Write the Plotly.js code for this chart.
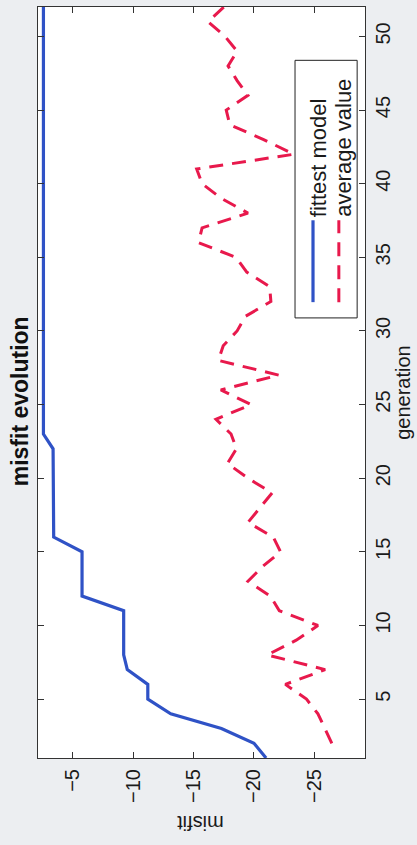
<!DOCTYPE html>
<html>
<head>
<meta charset="utf-8">
<script src="https://cdn.plot.ly/plotly-3.0.1.min.js"></script>
<style>
html,body{margin:0;padding:0;background:#eceef1;overflow:hidden;}
#chart{width:417px;height:845px;}
</style>
</head>
<body>
<div id="chart"></div>
<script>
// generation numbers (vertical axis in the rotated figure)
const fittestGenerations = [1,2,3,4,5,6,7,8,9,10,11,12,13,14,15,16,17,18,19,20,21,22,23,24,25,26,27,28,29,30,31,32,33,34,35,36,37,38,39,40,41,42,43,44,45,46,47,48,49,50,51,52];
const fittestModel = [-21.0,-20.0,-17.3,-13.1,-11.2,-11.2,-9.5,-9.2,-9.2,-9.2,-9.2,-5.75,-5.75,-5.75,-5.75,-3.4,-3.4,-3.4,-3.4,-3.4,-3.4,-3.35,-2.55,-2.55,-2.55,-2.55,-2.55,-2.55,-2.55,-2.55,-2.55,-2.55,-2.55,-2.55,-2.55,-2.55,-2.55,-2.55,-2.55,-2.55,-2.55,-2.55,-2.55,-2.55,-2.55,-2.55,-2.55,-2.55,-2.55,-2.55,-2.55,-2.55];
const averageGenerations = [2,3,4,5,6,7,8,9,10,11,12,13,14,15,16,17,18,19,20,21,22,23,24,25,26,27,28,29,30,31,32,33,34,35,36,37,38,39,40,41,42,43,44,45,46,47,48,49,50,51,52];
const averageValue = [-26.45,-25.85,-25.3,-24.35,-22.6,-25.9,-21.1,-23.5,-25.3,-22.1,-21.35,-19.5,-20.7,-22.2,-21.6,-19.5,-20.5,-21.5,-19.5,-17.8,-18.55,-18.1,-16.85,-19.75,-17.25,-22.05,-17.05,-17.45,-18.6,-19.3,-21.4,-21.3,-19.4,-18.5,-15.4,-15.7,-19.5,-17.3,-15.7,-15.25,-23.3,-20.8,-18.0,-17.7,-19.5,-18.6,-17.85,-18.6,-17.6,-16.2,-17.5];
const misfitTicks = [-25,-20,-15,-10,-5];
const generationTicks = [5,10,15,20,25,30,35,40,45,50];
const seriesNames = ['fittest model','average value'];
const titleText = 'misfit evolution';
const xLabel = 'generation';
const yLabel = 'misfit';

const FONT = '"Liberation Sans", Arial, Helvetica, sans-serif';
const BLUE = '#2f52c6';
const RED = '#e8194c';

const traces = [
  {x: fittestModel, y: fittestGenerations, type: 'scatter', mode: 'lines', name: seriesNames[0],
   line: {color: BLUE, width: 3.2}, showlegend: false},
  {x: averageValue, y: averageGenerations, type: 'scatter', mode: 'lines', name: seriesNames[1],
   line: {color: RED, width: 3, dash: '14px,9px'}, showlegend: false}
];

const legX0 = 0.786, legX1 = 0.976, legY0 = 0.586, legY1 = 0.929;
function rotText(text, x, y, size, angle, extra) {
  return Object.assign({text: text, xref: 'paper', yref: 'paper', x: x, y: y,
    xanchor: 'center', yanchor: 'middle', textangle: angle, showarrow: false,
    font: {family: FONT, size: size, color: '#1a1a1a'}}, extra || {});
}
const layout = {
  width: 417, height: 845,
  margin: {l: 38, r: 52, t: 7, b: 87},
  paper_bgcolor: '#eceef1',
  plot_bgcolor: '#ffffff',
  font: {family: FONT, color: '#1a1a1a'},
  showlegend: false,
  xaxis: {
    range: [-2.1, -29.2], tickvals: misfitTicks, tickangle: -90,
    ticks: 'inside', ticklen: 6, tickcolor: '#333', mirror: 'ticks',
    showline: true, linecolor: '#333', linewidth: 1,
    showgrid: false, zeroline: false, ticklabelstandoff: 2,
    tickfont: {family: FONT, size: 20, color: '#1a1a1a'}
  },
  yaxis: {
    range: [1, 52], side: 'right', tickvals: generationTicks, tickangle: -90,
    ticks: 'inside', ticklen: 6, tickcolor: '#333', mirror: 'ticks',
    showline: true, linecolor: '#333', linewidth: 1,
    showgrid: false, zeroline: false, ticklabelstandoff: 0,
    tickfont: {family: FONT, size: 20, color: '#1a1a1a'}
  },
  shapes: [
    {type: 'rect', xref: 'paper', yref: 'paper', x0: legX0, x1: legX1, y0: legY0, y1: legY1,
     line: {color: '#222', width: 1}, fillcolor: '#ffffff'},
    {type: 'line', xref: 'paper', yref: 'paper', x0: 0.841, x1: 0.841, y0: 0.607, y1: 0.716,
     line: {color: BLUE, width: 3.2}},
    {type: 'line', xref: 'paper', yref: 'paper', x0: 0.920, x1: 0.920, y0: 0.607, y1: 0.716,
     line: {color: RED, width: 3, dash: '14px,9px'}}
  ],
  annotations: [
    rotText('<b>' + titleText + '</b>', -0.055, 0.475, 23, -90, {font: {family: FONT, size: 23, color: '#111'}}),
    rotText(xLabel, 1.118, 0.487, 20, -90),
    rotText(yLabel, 0.495, -0.0866, 20, 180),
    rotText(seriesNames[0], 0.856, 0.718, 22, -90, {yanchor: 'bottom'}),
    rotText(seriesNames[1], 0.936, 0.718, 22, -90, {yanchor: 'bottom'})
  ]
};

Plotly.newPlot('chart', traces, layout, {displayModeBar: false, staticPlot: true});
</script>
</body>
</html>
